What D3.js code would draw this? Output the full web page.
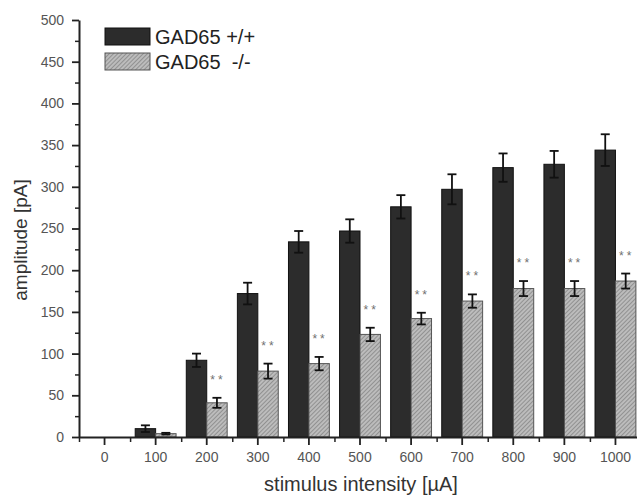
<!DOCTYPE html>
<html>
<head>
<meta charset="utf-8">
<script src="https://cdn.jsdelivr.net/npm/d3@7"></script>
<style>
  html, body { margin: 0; padding: 0; background: #fff; }
  svg { display: block; font-family: "Liberation Sans", Arial, sans-serif; }
</style>
</head>
<body>
<svg id="chart" width="637" height="497"></svg>
<script>
// Stimulus intensities (µA)
const categories = ["0", "100", "200", "300", "400", "500", "600", "700", "800", "900", "1000"];
// Mean amplitude (pA) and SEM for each genotype
const wtMean = [0, 10, 92, 172, 234, 247, 276, 297, 323, 327, 344];
const wtErr  = [0, 4, 8, 13, 13, 14, 14, 18, 17, 16, 19];
const koMean = [0, 4, 41, 79, 88, 123, 142, 163, 178, 178, 187];
const koErr  = [0, 1, 6, 9, 8, 8, 7, 8, 9, 9, 9];
const signif = ["", "", "**", "**", "**", "**", "**", "**", "**", "**", "**"];
const seriesNames = ["GAD65 +/+", "GAD65  -/-"];
const yTicks = [0, 50, 100, 150, 200, 250, 300, 350, 400, 450, 500];

(function () {
const svg = d3.select("#chart");
const plotLeft = 79, plotRight = 641, plotTop = 20, plotBottom = 437;

// Diagonal hatch used for the knockout bars
const defs = svg.append("defs");
const pat = defs.append("pattern")
  .attr("id", "hatch").attr("patternUnits", "userSpaceOnUse")
  .attr("width", 3).attr("height", 3)
  .attr("patternTransform", "rotate(45)");
pat.append("rect").attr("width", 3).attr("height", 3).attr("fill", "#bcbcbc");
pat.append("line").attr("x1", 0).attr("y1", 0).attr("x2", 0).attr("y2", 3)
  .attr("stroke", "#747474").attr("stroke-width", 1.2);

const x0 = d3.scaleBand().domain(categories).range([plotLeft, plotRight]).paddingInner(0).paddingOuter(0);
const x1 = d3.scaleBand().domain(["wt", "ko"]).range([0, x0.bandwidth()]).paddingInner(0).paddingOuter(0.25);
const y = d3.scaleLinear().domain([0, 500]).range([plotBottom, plotTop]);

const rows = categories.map((c, i) => ({
  c, wt: wtMean[i], wtE: wtErr[i], ko: koMean[i], koE: koErr[i], s: signif[i]
}));

const fills = { wt: "#2c2c2c", ko: "url(#hatch)" };
const strokes = { wt: "#111", ko: "#555" };

// Bars
["wt", "ko"].forEach(k => {
  svg.append("g").selectAll("rect").data(rows.filter(d => d[k] > 0)).join("rect")
    .attr("x", d => x0(d.c) + x1(k))
    .attr("y", d => y(d[k]))
    .attr("width", x1.bandwidth())
    .attr("height", d => y(0) - y(d[k]))
    .attr("fill", fills[k])
    .attr("stroke", strokes[k])
    .attr("stroke-width", 1);
});

// Error bars
["wt", "ko"].forEach(k => {
  const e = k + "E";
  const g = svg.append("g").attr("stroke", "#111").attr("stroke-width", 1.8).attr("fill", "none");
  const data = rows.filter(d => d[e] > 0);
  const cx = d => x0(d.c) + x1(k) + x1.bandwidth() / 2;
  g.selectAll("line.v").data(data).join("line").attr("class", "v")
    .attr("x1", cx).attr("x2", cx)
    .attr("y1", d => y(d[k] - d[e])).attr("y2", d => y(d[k] + d[e]));
  g.selectAll("line.t").data(data).join("line").attr("class", "t")
    .attr("x1", d => cx(d) - 4.5).attr("x2", d => cx(d) + 4.5)
    .attr("y1", d => y(d[k] + d[e])).attr("y2", d => y(d[k] + d[e]));
  g.selectAll("line.b").data(data).join("line").attr("class", "b")
    .attr("x1", d => cx(d) - 4.5).attr("x2", d => cx(d) + 4.5)
    .attr("y1", d => y(d[k] - d[e])).attr("y2", d => y(d[k] - d[e]));
});

// Significance markers above the knockout bars
svg.append("g").selectAll("text").data(rows.filter(d => d.s)).join("text")
  .attr("x", d => x0(d.c) + x1("ko") + x1.bandwidth() / 2 + 1)
  .attr("y", d => y(d.ko + d.koE) - 14)
  .attr("text-anchor", "middle")
  .attr("font-size", 12)
  .attr("letter-spacing", 3)
  .attr("fill", "#707070")
  .text(d => d.s);

// Y axis with minor ticks
const yMinor = d3.range(25, 500, 50);
svg.append("g").attr("transform", `translate(${plotLeft},0)`)
  .call(d3.axisLeft(y).tickValues(yMinor).tickSize(4).tickFormat(""))
  .call(g => g.select(".domain").remove())
  .call(g => g.selectAll("line").attr("stroke", "#222").attr("stroke-width", 1.5));
svg.append("g").attr("transform", `translate(${plotLeft},0)`)
  .call(d3.axisLeft(y).tickValues(yTicks).tickSize(7).tickSizeOuter(0).tickPadding(8))
  .call(g => g.select(".domain").attr("stroke", "#222").attr("stroke-width", 2))
  .call(g => g.selectAll("line").attr("stroke", "#222").attr("stroke-width", 1.8))
  .call(g => g.selectAll("text").attr("font-size", 14).attr("fill", "#555")
    .attr("font-family", "'Liberation Sans', Arial, sans-serif"));

// X axis: major ticks at category centres, minor at band edges
const xEdges = d3.scaleLinear().domain([0, categories.length]).range([plotLeft, plotRight]);
svg.append("g").attr("transform", `translate(0,${plotBottom})`)
  .call(d3.axisBottom(xEdges).tickValues(d3.range(0, categories.length)).tickSize(5).tickFormat(""))
  .call(g => g.select(".domain").remove())
  .call(g => g.selectAll("line").attr("stroke", "#222").attr("stroke-width", 1.5));
svg.append("g").attr("transform", `translate(0,${plotBottom})`)
  .call(d3.axisBottom(x0).tickSize(8).tickSizeOuter(0).tickPadding(7))
  .call(g => g.select(".domain").attr("stroke", "#222").attr("stroke-width", 2))
  .call(g => g.selectAll("line").attr("stroke", "#222").attr("stroke-width", 1.8))
  .call(g => g.selectAll("text").attr("font-size", 14).attr("fill", "#555")
    .attr("font-family", "'Liberation Sans', Arial, sans-serif"));

// Axis titles
svg.append("text")
  .attr("transform", "translate(27,240) rotate(-90)")
  .attr("text-anchor", "middle")
  .attr("font-size", 19).attr("fill", "#333")
  .text("amplitude [pA]");
svg.append("text")
  .attr("x", 361).attr("y", 491)
  .attr("text-anchor", "middle")
  .attr("font-size", 20).attr("fill", "#333")
  .text("stimulus intensity [µA]");

// Legend
const legend = svg.append("g").attr("transform", "translate(105,28)");
["wt", "ko"].forEach((k, i) => {
  const g = legend.append("g").attr("transform", `translate(0,${i * 25})`);
  g.append("rect").attr("width", 45).attr("height", 17)
    .attr("fill", fills[k]).attr("stroke", strokes[k]).attr("stroke-width", 1);
  g.append("text").attr("x", 50).attr("y", 15.5)
    .attr("font-size", 20).attr("fill", "#222")
    .style("white-space", "pre")
    .text(seriesNames[i]);
});
})();
</script>
</body>
</html>
